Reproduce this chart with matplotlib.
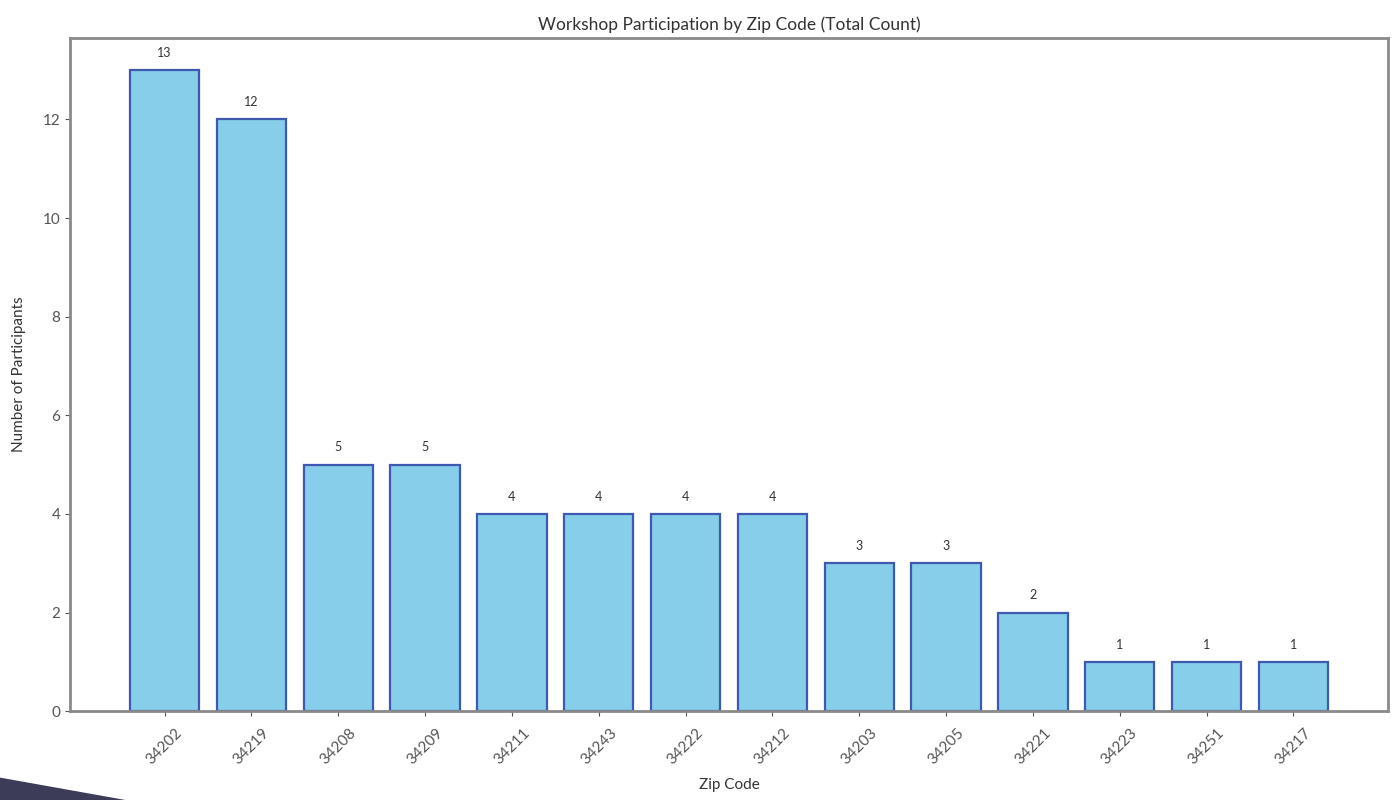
import matplotlib
matplotlib.use("Agg")
import matplotlib.pyplot as plt
from matplotlib.patches import Polygon

zip_codes = ["34202", "34219", "34208", "34209", "34211", "34243", "34222",
             "34212", "34203", "34205", "34221", "34223", "34251", "34217"]
participants = [13, 12, 5, 5, 4, 4, 4, 4, 3, 3, 2, 1, 1, 1]

plt.rcParams['font.family'] = ['Lato', 'DejaVu Sans']

fig = plt.figure(figsize=(13.94, 8), dpi=100)
ax = fig.add_axes([0.0502, 0.111, 0.9455, 0.8415])

x = list(range(len(zip_codes)))
bars = ax.bar(x, participants, width=0.8, color='#87CEEB',
              edgecolor='#3f58b0', linewidth=1.6)
for b, v in zip(bars, participants):
    ax.annotate(str(v), (b.get_x() + b.get_width() / 2, v),
                xytext=(0, 8), textcoords='offset points',
                ha='center', va='bottom', fontsize=9, color='#333333')

ax.set_xticks(x)
ax.set_xticklabels(zip_codes, rotation=45, fontsize=11, color='#333333')
ax.tick_params(axis='x', pad=7)
ax.tick_params(axis='y', labelsize=11, labelcolor='#333333')
ax.tick_params(colors='#555555')
ax.set_xlabel("Zip Code", fontsize=11, color='#333333', labelpad=8)
ax.set_ylabel("Number of Participants", fontsize=11, color='#333333', labelpad=12)
ax.set_title("Workshop Participation by Zip Code (Total Count)",
             fontsize=12.5, color='#333333', pad=6)
for s in ax.spines.values():
    s.set_color('#8a8a8a')
    s.set_linewidth(2)

# decorative dark wedge at bottom-left
fig.patches.append(Polygon([[0, 0.0], [0, 0.028], [0.09, 0.0]],
                           closed=True, transform=fig.transFigure,
                           facecolor='#3c3c58', edgecolor='none'))

fig.savefig("out.png", dpi=100)
